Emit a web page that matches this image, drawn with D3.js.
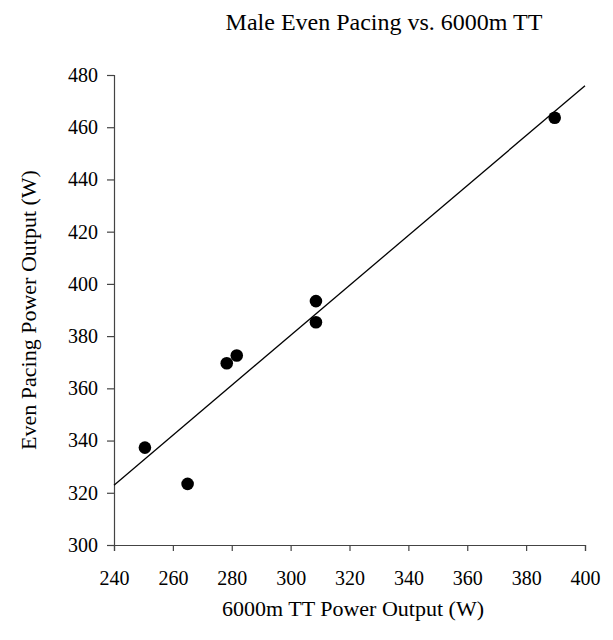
<!DOCTYPE html>
<html>
<head>
<meta charset="utf-8">
<script src="https://cdn.jsdelivr.net/npm/d3@7.9.0/dist/d3.min.js"></script>
<style>
  body { margin: 0; background: #fff; }
  svg text { font-family: "Liberation Serif", "Times New Roman", serif; fill: #000; }
</style>
</head>
<body>
<svg id="chart"></svg>
<script>
// 6000m TT power vs even pacing power, male riders
const ttPower = [250.5, 265, 278.3, 281.7, 308.6, 308.6, 389.7];
const evenPower = [337.3, 323.4, 369.6, 372.6, 393.4, 385.3, 463.6];
const xTicks = [240, 260, 280, 300, 320, 340, 360, 380, 400];
const yTicks = [300, 320, 340, 360, 380, 400, 420, 440, 460, 480];

const W = 613, H = 640;
const margin = { top: 75, right: 28, bottom: 95, left: 114 };
const width = W - margin.left - margin.right;
const height = H - margin.top - margin.bottom;

const svg = d3.select("#chart").attr("width", W).attr("height", H);
const g = svg.append("g").attr("transform", `translate(${margin.left},${margin.top})`);

const x = d3.scaleLinear().domain([240, 400]).range([0, width]);
const y = d3.scaleLinear().domain([300, 480]).range([height, 0]);

const xAxis = g.append("g")
  .attr("transform", `translate(0,${height})`)
  .call(d3.axisBottom(x).tickValues(xTicks).tickSize(6).tickPadding(20).tickFormat(d3.format("d")));
const yAxis = g.append("g")
  .call(d3.axisLeft(y).tickValues(yTicks).tickSize(7).tickPadding(9).tickFormat(d3.format("d")));

// drop d3's sans-serif defaults so the css font applies
[xAxis, yAxis].forEach(a => {
  a.attr("font-family", null).attr("font-size", null);
  a.select(".domain").attr("stroke", "#444").attr("stroke-width", 1.2);
  a.selectAll(".tick line").attr("stroke", "#444").attr("stroke-width", 1.2);
  a.selectAll(".tick text")
    .attr("fill", "#000")
    .style("font-size", "20px");
});

// least squares fit line
const data = ttPower.map((v, i) => ({ x: v, y: evenPower[i] }));
const mx = d3.mean(data, d => d.x), my = d3.mean(data, d => d.y);
const slope = d3.sum(data, d => (d.x - mx) * (d.y - my)) / d3.sum(data, d => (d.x - mx) ** 2);
const intercept = my - slope * mx;

g.append("path")
  .datum([240, 400])
  .attr("fill", "none")
  .attr("stroke", "#000")
  .attr("stroke-width", 1.3)
  .attr("d", d3.line().x(d => x(d)).y(d => y(intercept + slope * d)));

g.selectAll(".dot")
  .data(data)
  .enter()
  .append("circle")
  .attr("class", "dot")
  .attr("cx", d => x(d.x))
  .attr("cy", d => y(d.y))
  .attr("r", 6.3)
  .attr("fill", "#000");

svg.append("text")
  .attr("x", 384)
  .attr("y", 30)
  .attr("text-anchor", "middle")
  .style("font-size", "24px")
  .text("Male Even Pacing vs. 6000m TT");

svg.append("text")
  .attr("x", 353)
  .attr("y", 616)
  .attr("text-anchor", "middle")
  .style("font-size", "22px")
  .text("6000m TT Power Output (W)");

svg.append("text")
  .attr("transform", `translate(36,310) rotate(-90)`)
  .attr("text-anchor", "middle")
  .style("font-size", "22px")
  .text("Even Pacing Power Output (W)");
</script>
</body>
</html>
